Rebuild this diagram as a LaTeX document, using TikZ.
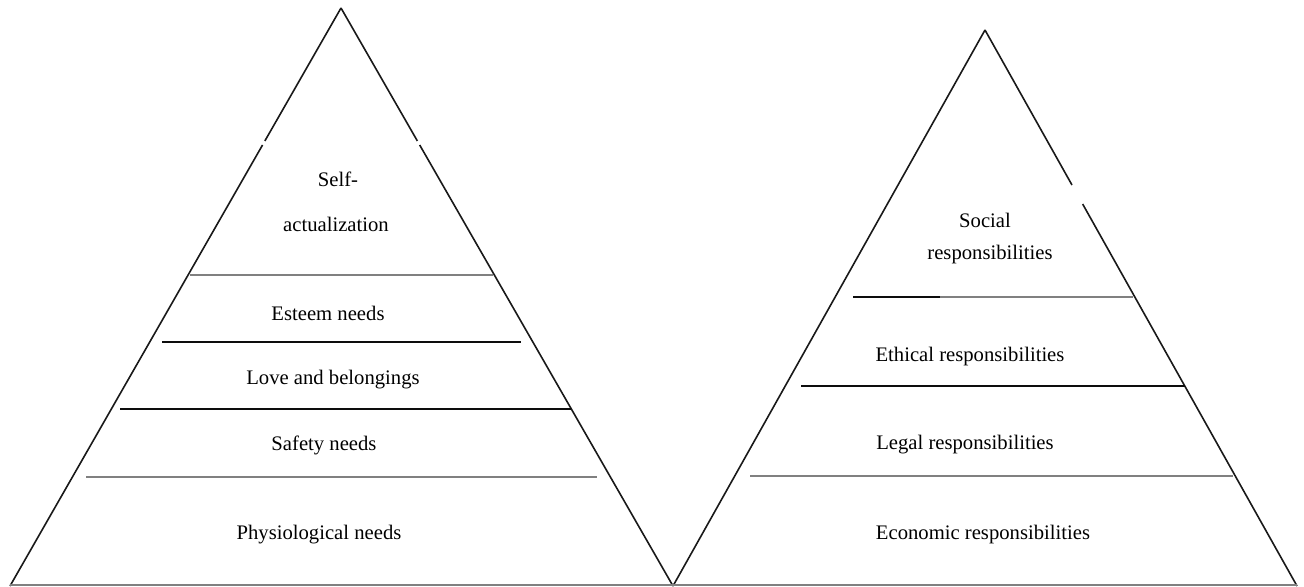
\documentclass[tikz,border=0pt]{standalone}
\usepackage{fontspec}
\setmainfont{Liberation Serif}
\usetikzlibrary{calc}
\begin{document}
\begin{tikzpicture}[x=0.75pt,y=-0.75pt,
  side/.style={draw=black!90,line width=1.2pt},
  blackline/.style={draw=black!95,line width=1.2pt},
  grayline/.style={draw=black!50,line width=1.2pt},
  lbl/.style={font=\fontsize{15.5}{18}\selectfont,inner sep=0pt,anchor=center,yshift=-1.5pt}]
\useasboundingbox (0,0) rectangle (1304,586);
% left triangle corners
\coordinate (A1) at (341,8);
\coordinate (L1) at (10,586);
\coordinate (R1) at (673,586);
% right triangle corners
\coordinate (A2) at (985,30);
\coordinate (L2) at (673,586);
\coordinate (R2) at (1297,586);
% gap points on the sides
\coordinate (g1a) at ($(A1)!0.2300!(L1)$);
\coordinate (g1b) at ($(A1)!0.2370!(L1)$);
\coordinate (g2a) at ($(A1)!0.2300!(R1)$);
\coordinate (g2b) at ($(A1)!0.2370!(R1)$);
\coordinate (g3a) at ($(A2)!0.2788!(R2)$);
\coordinate (g3b) at ($(A2)!0.3130!(R2)$);
% sides
\draw[side] (A1) -- (g1a);
\draw[side] (g1b) -- (L1);
\draw[side] (A1) -- (g2a);
\draw[side] (g2b) -- (R1);
\draw[side] (A2) -- (L2);
\draw[side] (A2) -- (g3a);
\draw[side] (g3b) -- (R2);
% base
\coordinate (B1) at (10,585);
\coordinate (B2) at (1297,585);
\draw[grayline] (B1) -- (B2);
% left horizontal lines
\coordinate (h1a) at (190,275); \coordinate (h1b) at (493,275);
\coordinate (h2a) at (162,342); \coordinate (h2b) at (521,342);
\coordinate (h3a) at (120,409); \coordinate (h3b) at (571,409);
\coordinate (h4a) at (86,477);  \coordinate (h4b) at (597,477);
\draw[grayline] (h1a) -- (h1b);
\draw[blackline] (h2a) -- (h2b);
\draw[blackline] (h3a) -- (h3b);
\draw[grayline] (h4a) -- (h4b);
% right horizontal lines
\coordinate (k1a) at (853,297); \coordinate (k1m) at (940,297); \coordinate (k1b) at (1133,297);
\coordinate (k2a) at (801,386); \coordinate (k2b) at (1185,386);
\coordinate (k3a) at (750,476); \coordinate (k3b) at (1233,476);
\draw[blackline] (k1a) -- (k1m);
\draw[grayline] (k1m) -- (k1b);
\draw[blackline] (k2a) -- (k2b);
\draw[grayline] (k3a) -- (k3b);
% left labels
\node[lbl] (self1) at (338,177) {Self-};
\node[lbl] (self2) at (336,222) {actualization};
\node[lbl] (esteem) at (328,311) {Esteem needs};
\node[lbl] (love) at (333,378) {Love and belongings};
\node[lbl] (safety) at (324,443) {Safety needs};
\node[lbl] (phys) at (319,533) {Physiological needs};
% right labels
\node[lbl] (soc1) at (985,218) {Social};
\node[lbl] (soc2) at (990,253) {responsibilities};
\node[lbl] (eth) at (970,355) {Ethical responsibilities};
\node[lbl] (legal) at (965,443) {Legal responsibilities};
\node[lbl] (econ) at (983,533) {Economic responsibilities};
\end{tikzpicture}
\end{document}
